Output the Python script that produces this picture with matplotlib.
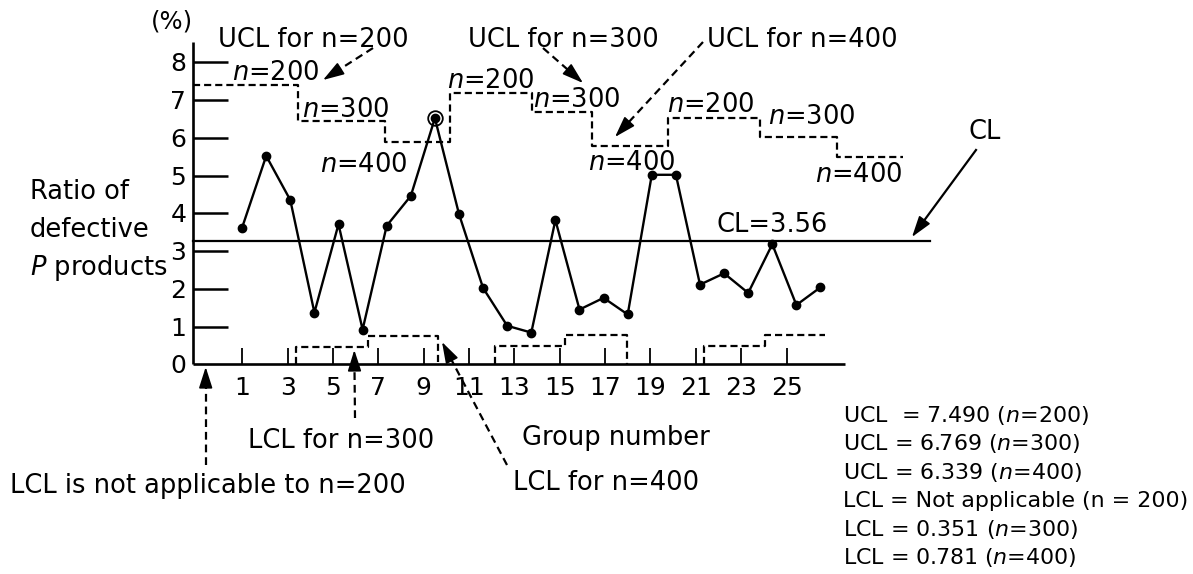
import math
import matplotlib
matplotlib.use("Agg")
import matplotlib.pyplot as plt
import matplotlib.transforms as mtransforms
from matplotlib.transforms import offset_copy

plt.rcParams['font.family'] = ['DejaVu Sans']
plt.rcParams['mathtext.fontset'] = 'dejavusans'

# ---------------- data ----------------
groups = list(range(1, 26))
ratio = [3.62, 5.52, 4.35, 1.37, 3.71, 0.92, 3.67, 4.46, 6.52, 3.98,
         2.02, 1.02, 0.84, 3.82, 1.45, 1.76, 1.32, 5.02, 5.02, 2.11,
         2.41, 1.89, 3.18, 1.57, 2.04]
flagged_group = 9
cl_drawn = 3.27
ucl_edges = [-1.03, 3.31, 6.93, 9.63, 13.02, 15.52, 18.67, 22.49, 25.67, 28.42]
ucl_levels = [7.40, 6.45, 5.90, 7.19, 6.68, 5.79, 6.53, 6.03, 5.50]
lcl_edges = [[3.22, 6.24, 9.14], [11.51, 14.40, 16.96], [20.17, 22.70, 25.19]]
lcl_levels = [[0.47, 0.76], [0.49, 0.78], [0.49, 0.78]]
lcl_closed = [True, True, False]
y_ticks = [1, 2, 3, 4, 5, 6, 7, 8]
y_tick_labels = ['0', '1', '2', '3', '4', '5', '6', '7', '8']
x_ticks = [1, 3, 5, 7, 9, 11, 13, 15, 17, 19, 21, 23, 25]
summary = ["UCL  = 7.490 ($n$=200)", "UCL = 6.769 ($n$=300)",
           "UCL = 6.339 ($n$=400)", "LCL = Not applicable (n = 200)",
           "LCL = 0.351 ($n$=300)", "LCL = 0.781 ($n$=400)"]

# ---------------- layout ----------------
W, H = 1193, 574
fig = plt.figure(figsize=(W / 100, H / 100), dpi=100)
ax = fig.add_axes([0, 0, 1, 1])
ax.set_autoscale_on(False)
ax.set_xlim(-9.046, 40.457)
ax.set_ylim(-5.555, 9.650)
ax.axis('off')
PX = mtransforms.Affine2D().scale(1 / W, -1 / H).translate(0, 1) + fig.transFigure

x_axis_start, x_axis_end, y_axis_top, cl_end = -1.025, 26.02, 8.55, 29.54
tick_scale = 0.941  # drawn tick spacing relative to point spacing
K = 'black'
dash = (0, (3.2, 1.8))

# axes
ax.plot([x_axis_start, x_axis_start], [0, y_axis_top], color=K, lw=1.9, solid_capstyle='butt')
ax.plot([x_axis_start, x_axis_end], [0, 0], color=K, lw=1.9, solid_capstyle='butt')
for v in y_ticks:
    ax.plot([x_axis_start, 0.40], [v, v], color=K, lw=1.8, solid_capstyle='butt')
lab_tr = offset_copy(ax.transData, fig=fig, x=-7, y=-9, units='dots')
for i, s in enumerate(y_tick_labels):
    ax.text(x_axis_start, i, s, transform=lab_tr, ha='right', va='baseline', fontsize=18)
xlab_tr = offset_copy(ax.transData, fig=fig, x=0, y=-31, units='dots')
for g in x_ticks:
    xt = 1.008 + (g - 1) * tick_scale
    ax.plot([xt, xt], [0, 0.42], color=K, lw=1.3, solid_capstyle='butt')
    ax.text(xt, 0, str(g), transform=xlab_tr, ha='center', va='baseline', fontsize=18)

# CL line
ax.plot([x_axis_start, cl_end], [cl_drawn, cl_drawn], color=K, lw=1.6)

# UCL steps
ux, uy = [], []
for i, lv in enumerate(ucl_levels):
    ux += [ucl_edges[i], ucl_edges[i + 1]]
    uy += [lv, lv]
ax.plot(ux, uy, color=K, lw=1.6, ls=dash)

# LCL steps
for e, l, closed in zip(lcl_edges, lcl_levels, lcl_closed):
    xs = [e[0], e[0], e[1], e[1], e[2]]
    ys = [0, l[0], l[0], l[1], l[1]]
    if closed:
        xs.append(e[2]); ys.append(0)
    ax.plot(xs, ys, color=K, lw=1.6, ls=dash)

# data line
ax.plot(groups, ratio, color=K, lw=1.7, marker='o', ms=6, zorder=5)
ax.plot([flagged_group], [ratio[flagged_group - 1]], marker='o', ms=10.5,
        mfc='none', mec=K, mew=1.3, zorder=6)

# ---------------- annotations ----------------
def txt(x, y, s, size=18.5, **kw):
    ax.text(x, y, s, transform=PX, ha=kw.pop('ha', 'left'), va='baseline',
            fontsize=size, color=K, **kw)

def arrow(x0, y0, x1, y1, dashed=True):
    dx, dy = x1 - x0, y1 - y0
    L = math.hypot(dx, dy)
    ux_, uy_ = dx / L, dy / L
    hl = 18
    bx, by = x1 - ux_ * hl, y1 - uy_ * hl
    ax.plot([x0, bx + ux_ * 2], [y0, by + uy_ * 2], transform=PX, color=K, lw=1.6,
            ls=(0, (3.5, 2.2)) if dashed else '-')
    ax.annotate('', xy=(x1, y1), xycoords=PX, xytext=(bx, by), textcoords=PX,
                arrowprops=dict(arrowstyle='-|>,head_length=1.0,head_width=0.32',
                                mutation_scale=13, lw=1.2, color=K,
                                shrinkA=0, shrinkB=0))

txt(151, 29, "(%)", 17.5)
txt(218, 46.7, "UCL for n=200")
txt(468, 46.7, "UCL for n=300")
txt(707, 46.7, "UCL for n=400")
for x, y, s in [(232, 80, "$n$=200"), (302, 116.7, "$n$=300"), (320, 171.7, "$n$=400"),
                (447, 88.3, "$n$=200"), (533, 106.7, "$n$=300"), (588, 170, "$n$=400"),
                (667, 111.7, "$n$=200"), (768, 124, "$n$=300"), (815, 181.7, "$n$=400")]:
    txt(x, y, s, 18.5)
txt(968, 139, "CL")
txt(717, 231.7, "CL=3.56")
txt(30, 199, "Ratio of")
txt(30, 237, "defective")
txt(30, 275, "$P$ products")
txt(248, 448, "LCL for n=300")
txt(522, 445, "Group number")
txt(513, 490, "LCL for n=400")
txt(10, 492.7, "LCL is not applicable to n=200")
for i, s in enumerate(summary):
    txt(843, 422 + i * 28.4, s, 15.9)

arrow(373, 48, 323, 80)
arrow(543, 48, 583, 83)
arrow(703, 42, 615, 137)
arrow(976, 150, 912, 237, dashed=False)
arrow(205.7, 465, 205.7, 367)
arrow(355, 418, 354.3, 350)
arrow(507, 465, 442, 342)

fig.savefig("out.png", dpi=100)
